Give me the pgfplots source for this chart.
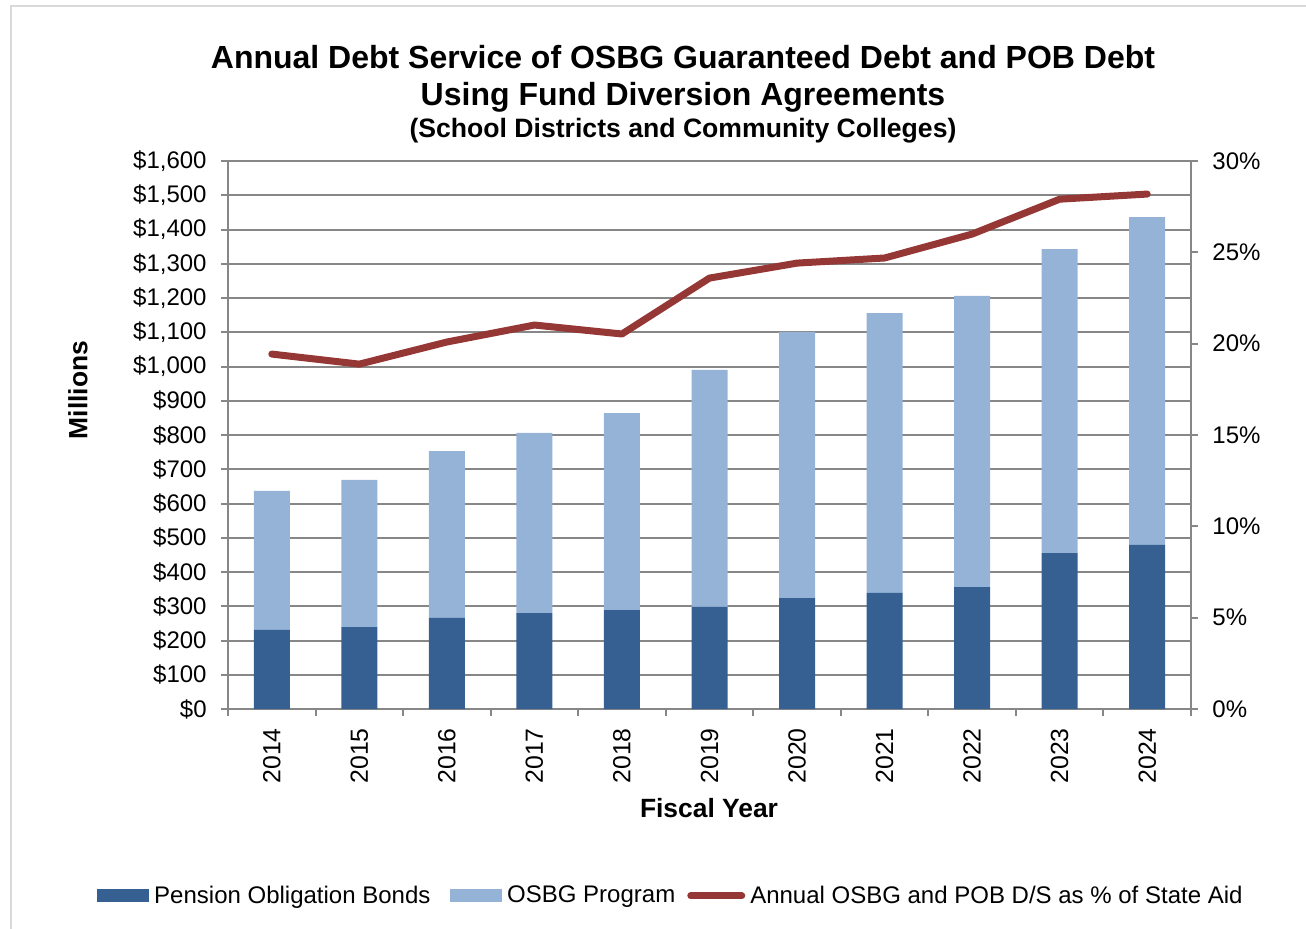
\documentclass[border=0pt]{standalone}
\usepackage{pgfplots}
\pgfplotsset{compat=1.18}
\usepackage{fontspec}
\setmainfont{Liberation Sans}
\definecolor{pob}{HTML}{376092}
\definecolor{osbg}{HTML}{95B3D7}
\definecolor{pct}{HTML}{953735}
\definecolor{gridc}{HTML}{878787}
\definecolor{framec}{HTML}{D9D9D9}

\pgfplotstableread{
x pob osbg pct
0 231 406 19.43
1 239 430 18.88
2 266 487 20.09
3 280 526 21.02
4 289 575 20.53
5 298 692 23.59
6 324 777 24.41
7 339 817 24.69
8 356 850 26.00
9 455 888 27.91
10 479 957 28.19
}\datatable

\begin{document}
\begin{tikzpicture}[x=0.5pt,y=0.5pt]
\path[use as bounding box] (0,0) rectangle (1306,928);
\draw[framec, line width=1.2pt] (11,-10) -- (11,922) -- (1320,922);

\node[font=\fontsize{16}{19}\selectfont\bfseries] at (683,871) {Annual Debt Service of OSBG Guaranteed Debt and POB Debt};
\node[font=\fontsize{16}{19}\selectfont\bfseries] at (683,831) {Using Fund Diversion Agreements};
\node[font=\fontsize{13.3}{16}\selectfont\bfseries] at (683,797) {(School Districts and Community Colleges)};

\begin{axis}[
  at={(114pt,109.5pt)}, anchor=south west,
  scale only axis, width=481.5pt, height=274pt,
  xmin=-0.5, xmax=10.5, ymin=0, ymax=1600,
  ybar stacked, bar width=18pt,
  axis y line*=left, axis x line*=bottom,
  axis line style={gridc, line width=1pt},
  tick style={gridc, line width=1pt},
  tick align=outside, major tick length=3.5pt,
  ymajorgrids, grid style={gridc, line width=1pt},
  ytick={0,100,...,1600},
  yticklabels={\$0,\$100,\$200,\$300,\$400,\$500,\$600,\$700,\$800,\$900,{\$1,000},{\$1,100},{\$1,200},{\$1,300},{\$1,400},{\$1,500},{\$1,600}},
  yticklabel style={font=\fontsize{12}{14}\selectfont, inner sep=0pt, xshift=-7pt},
  xtick={-0.5,0.5,...,10.5}, xticklabels={},
  extra x ticks={0,1,2,3,4,5,6,7,8,9,10},
  extra x tick labels={2014,2015,2016,2017,2018,2019,2020,2021,2022,2023,2024},
  extra x tick style={major tick length=0pt, xticklabel style={font=\fontsize{12.4}{14}\selectfont, rotate=90, anchor=east, inner sep=0pt, xshift=-9.5pt}},
  clip=false,
]
\addplot[fill=pob, draw=none] table[x=x, y=pob] {\datatable};
\addplot[fill=osbg, draw=none] table[x=x, y=osbg] {\datatable};
\end{axis}

\begin{axis}[
  at={(114pt,109.5pt)}, anchor=south west,
  scale only axis, width=481.5pt, height=274pt,
  xmin=-0.5, xmax=10.5, ymin=0, ymax=30,
  axis y line*=right, axis x line=none,
  axis line style={gridc, line width=1pt},
  tick style={gridc, line width=1pt},
  tick align=outside, major tick length=3.5pt,
  ytick={0,5,...,30},
  yticklabels={0\%,5\%,10\%,15\%,20\%,25\%,30\%},
  yticklabel style={font=\fontsize{12}{14}\selectfont, inner sep=0pt, xshift=7pt},
  legend columns=3,
  legend style={draw=none, fill=none, inner sep=0pt, at={(-0.136,-0.341)}, anchor=west,
    font=\fontsize{12}{14}\selectfont,
    /tikz/every even column/.style={},
    /tikz/column 2/.style={column sep=7.5pt},
    /tikz/column 4/.style={column sep=3.5pt},
    nodes={inner sep=2.5pt}},
]
\addlegendimage{legend image code/.code={\fill[pob] (0pt,-3pt) rectangle (25.5pt,3pt);}}
\addlegendentry{Pension Obligation Bonds}
\addlegendimage{legend image code/.code={\fill[osbg] (0pt,-3pt) rectangle (25.5pt,3pt);}}
\addlegendentry{OSBG Program}
\addplot[pct, line width=3.5pt, line join=round, line cap=round, mark=none,
  legend image code/.code={\draw[pct, line width=3.5pt, line cap=round] (0pt,0pt) -- (25.5pt,0pt);}]
  table[x=x, y=pct] {\datatable};
\addlegendentry{Annual OSBG and POB D/S as \% of State Aid}
\end{axis}

\node[font=\fontsize{13.2}{16}\selectfont\bfseries] at (709,120) {Fiscal Year};
\node[font=\fontsize{13.2}{16}\selectfont\bfseries, rotate=90] at (78,538) {Millions};
\end{tikzpicture}
\end{document}
